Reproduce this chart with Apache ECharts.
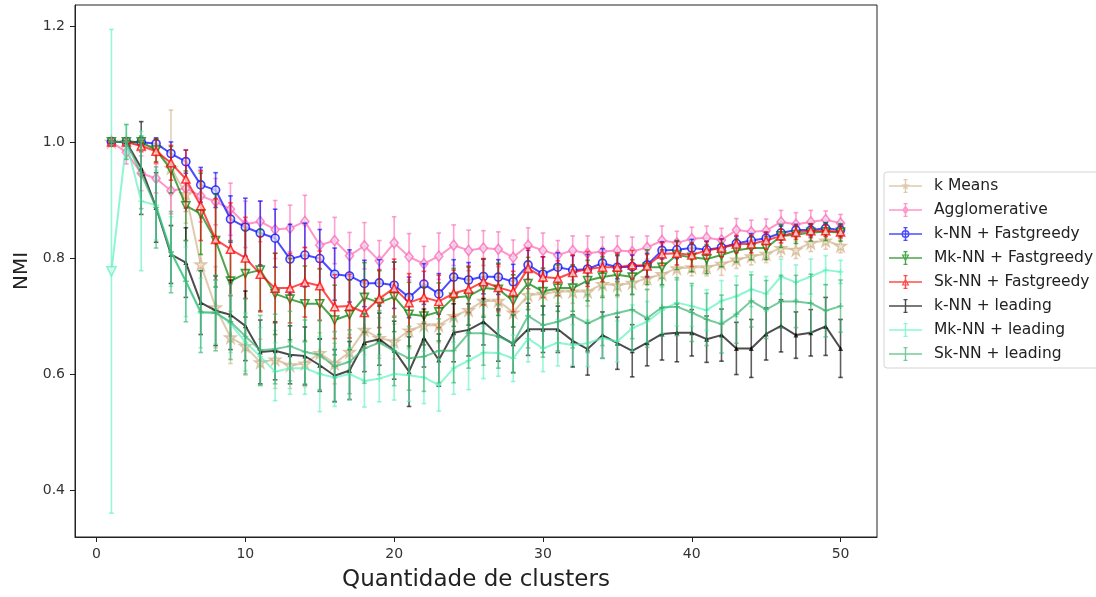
<!DOCTYPE html>
<html>
<head>
<meta charset="utf-8">
<script src="https://cdn.jsdelivr.net/npm/echarts@6/dist/echarts.min.js"></script>
<style>
  html, body { margin: 0; padding: 0; background: #fff; }
  #chart { width: 1096px; height: 597px; }
</style>
</head>
<body>
<div id="chart"></div>
<script>
// Number of clusters on the x axis
const clusters = [1, 2, 3, 4, 5, 6, 7, 8, 9, 10, 11, 12, 13, 14, 15, 16, 17, 18, 19, 20,
  21, 22, 23, 24, 25, 26, 27, 28, 29, 30, 31, 32, 33, 34, 35, 36, 37, 38, 39, 40,
  41, 42, 43, 44, 45, 46, 47, 48, 49, 50];

const xTicks = [0, 10, 20, 30, 40, 50];
const yTicks = [0.4, 0.6, 0.8, 1.0, 1.2];

const seriesNames = ['k Means', 'Agglomerative', 'k-NN + Fastgreedy', 'Mk-NN + Fastgreedy',
  'Sk-NN + Fastgreedy', 'k-NN + leading', 'Mk-NN + leading', 'Sk-NN + leading'];

// Mean NMI per method and its standard deviation (error bar half-length)
const kMeans = [1.0, 1.0, 0.995, 0.99, 0.955, 0.91, 0.789, 0.715, 0.663, 0.648,
  0.620, 0.625, 0.615, 0.618, 0.636, 0.618, 0.638, 0.676, 0.662, 0.656,
  0.675, 0.684, 0.684, 0.700, 0.710, 0.726, 0.726, 0.706, 0.736, 0.738,
  0.742, 0.742, 0.742, 0.755, 0.753, 0.757, 0.765, 0.772, 0.782, 0.784,
  0.784, 0.790, 0.797, 0.803, 0.807, 0.817, 0.814, 0.826, 0.830, 0.821];
const kMeansErr = [0, 0.005, 0.01, 0.015, 0.1, 0.05, 0.08, 0.07, 0.045, 0.05,
  0.04, 0.05, 0.04, 0.04, 0.035, 0.035, 0.03, 0.03, 0.035, 0.03,
  0.03, 0.025, 0.03, 0.025, 0.025, 0.025, 0.02, 0.025, 0.02, 0.02,
  0.02, 0.02, 0.025, 0.02, 0.02, 0.02, 0.02, 0.02, 0.02, 0.015,
  0.015, 0.02, 0.015, 0.015, 0.015, 0.015, 0.015, 0.015, 0.015, 0.012];

const agglomerative = [1.0, 0.982, 0.946, 0.937, 0.916, 0.920, 0.907, 0.897, 0.884, 0.858,
  0.863, 0.849, 0.851, 0.863, 0.822, 0.830, 0.804, 0.821, 0.795, 0.826,
  0.802, 0.790, 0.803, 0.822, 0.813, 0.817, 0.815, 0.801, 0.822, 0.813,
  0.805, 0.813, 0.808, 0.811, 0.813, 0.811, 0.818, 0.830, 0.826, 0.833,
  0.835, 0.831, 0.848, 0.845, 0.847, 0.862, 0.858, 0.862, 0.866, 0.860];
const agglomerativeErr = [0, 0.02, 0.03, 0.025, 0.04, 0.04, 0.045, 0.04, 0.045, 0.04,
  0.035, 0.05, 0.04, 0.045, 0.04, 0.04, 0.04, 0.04, 0.035, 0.045,
  0.04, 0.03, 0.04, 0.035, 0.035, 0.03, 0.03, 0.03, 0.03, 0.03,
  0.025, 0.025, 0.03, 0.025, 0.025, 0.025, 0.02, 0.025, 0.02, 0.02,
  0.02, 0.02, 0.02, 0.02, 0.02, 0.02, 0.02, 0.02, 0.015, 0.015];

const knnFast = [1.0, 1.0, 1.0, 0.997, 0.980, 0.966, 0.926, 0.917, 0.867, 0.853,
  0.843, 0.834, 0.798, 0.805, 0.799, 0.772, 0.769, 0.756, 0.757, 0.753,
  0.732, 0.755, 0.738, 0.767, 0.762, 0.768, 0.767, 0.759, 0.788, 0.772,
  0.784, 0.779, 0.781, 0.791, 0.784, 0.785, 0.788, 0.813, 0.814, 0.817,
  0.814, 0.818, 0.825, 0.830, 0.834, 0.843, 0.848, 0.848, 0.851, 0.848];
const knnFastErr = [0, 0, 0.005, 0.01, 0.02, 0.02, 0.03, 0.03, 0.04, 0.05,
  0.055, 0.05, 0.06, 0.055, 0.05, 0.045, 0.045, 0.04, 0.04, 0.04,
  0.035, 0.035, 0.035, 0.03, 0.03, 0.03, 0.03, 0.03, 0.025, 0.03,
  0.025, 0.025, 0.025, 0.025, 0.02, 0.02, 0.02, 0.015, 0.015, 0.015,
  0.015, 0.015, 0.012, 0.012, 0.01, 0.012, 0.01, 0.01, 0.01, 0.01];

const mknnFast = [1.0, 1.0, 1.0, 0.986, 0.952, 0.890, 0.876, 0.830, 0.760, 0.773,
  0.779, 0.738, 0.729, 0.721, 0.721, 0.693, 0.702, 0.732, 0.723, 0.733,
  0.703, 0.700, 0.707, 0.732, 0.734, 0.748, 0.746, 0.726, 0.756, 0.742,
  0.748, 0.748, 0.761, 0.767, 0.771, 0.767, 0.784, 0.784, 0.805, 0.801,
  0.798, 0.805, 0.813, 0.817, 0.817, 0.838, 0.840, 0.844, 0.845, 0.844];
const mknnFastErr = [0, 0, 0.01, 0.02, 0.04, 0.06, 0.07, 0.08, 0.07, 0.075,
  0.07, 0.07, 0.07, 0.065, 0.06, 0.06, 0.06, 0.06, 0.055, 0.06,
  0.055, 0.05, 0.05, 0.05, 0.05, 0.05, 0.045, 0.045, 0.045, 0.04,
  0.04, 0.04, 0.035, 0.035, 0.035, 0.03, 0.03, 0.03, 0.025, 0.025,
  0.025, 0.02, 0.02, 0.02, 0.02, 0.02, 0.015, 0.015, 0.015, 0.015];

const sknnFast = [1.0, 1.0, 0.993, 0.984, 0.964, 0.936, 0.890, 0.832, 0.815, 0.800,
  0.772, 0.748, 0.748, 0.758, 0.752, 0.716, 0.717, 0.706, 0.730, 0.748,
  0.723, 0.732, 0.725, 0.739, 0.746, 0.759, 0.749, 0.742, 0.782, 0.767,
  0.765, 0.775, 0.781, 0.784, 0.784, 0.788, 0.786, 0.807, 0.808, 0.805,
  0.813, 0.817, 0.824, 0.824, 0.830, 0.838, 0.844, 0.847, 0.847, 0.845];
const sknnFastErr = [0, 0, 0.01, 0.02, 0.03, 0.05, 0.06, 0.07, 0.08, 0.07,
  0.065, 0.06, 0.06, 0.06, 0.06, 0.055, 0.055, 0.055, 0.05, 0.05,
  0.05, 0.045, 0.045, 0.04, 0.04, 0.04, 0.04, 0.035, 0.035, 0.035,
  0.03, 0.03, 0.03, 0.025, 0.025, 0.025, 0.02, 0.02, 0.02, 0.02,
  0.015, 0.015, 0.015, 0.015, 0.015, 0.012, 0.012, 0.012, 0.01, 0.01];

const knnLead = [1.0, 1.0, 0.955, 0.887, 0.806, 0.792, 0.723, 0.709, 0.702, 0.683,
  0.638, 0.640, 0.633, 0.631, 0.615, 0.597, 0.606, 0.654, 0.660, 0.641,
  0.604, 0.662, 0.624, 0.671, 0.676, 0.690, 0.667, 0.652, 0.677, 0.677,
  0.677, 0.657, 0.643, 0.667, 0.653, 0.640, 0.654, 0.669, 0.671, 0.671,
  0.660, 0.667, 0.644, 0.644, 0.669, 0.683, 0.667, 0.671, 0.682, 0.644];
const knnLeadErr = [0, 0, 0.08, 0.06, 0.05, 0.06, 0.055, 0.06, 0.06, 0.06,
  0.055, 0.05, 0.05, 0.05, 0.045, 0.045, 0.05, 0.05, 0.045, 0.05,
  0.06, 0.05, 0.045, 0.05, 0.045, 0.04, 0.045, 0.05, 0.045, 0.04,
  0.04, 0.045, 0.045, 0.04, 0.045, 0.045, 0.04, 0.045, 0.05, 0.04,
  0.04, 0.045, 0.045, 0.05, 0.045, 0.045, 0.04, 0.04, 0.05, 0.05];

const mknnLead = [0.777, 1.0, 0.898, 0.891, 0.811, 0.759, 0.705, 0.707, 0.687, 0.655,
  0.630, 0.604, 0.610, 0.610, 0.600, 0.594, 0.600, 0.588, 0.592, 0.600,
  0.598, 0.594, 0.581, 0.610, 0.623, 0.637, 0.636, 0.627, 0.661, 0.644,
  0.654, 0.650, 0.653, 0.662, 0.656, 0.679, 0.690, 0.710, 0.723, 0.717,
  0.710, 0.726, 0.734, 0.746, 0.738, 0.768, 0.758, 0.768, 0.779, 0.776];
const mknnLeadErr = [0.417, 0.03, 0.12, 0.06, 0.06, 0.06, 0.06, 0.055, 0.05, 0.05,
  0.05, 0.05, 0.045, 0.045, 0.065, 0.05, 0.045, 0.045, 0.04, 0.045,
  0.045, 0.045, 0.045, 0.045, 0.05, 0.045, 0.04, 0.04, 0.04, 0.04,
  0.04, 0.035, 0.04, 0.035, 0.035, 0.04, 0.035, 0.04, 0.04, 0.035,
  0.035, 0.035, 0.035, 0.03, 0.03, 0.03, 0.03, 0.03, 0.025, 0.02];

const sknnLead = [1.0, 1.0, 0.945, 0.887, 0.810, 0.760, 0.707, 0.705, 0.690, 0.665,
  0.641, 0.643, 0.648, 0.638, 0.633, 0.613, 0.621, 0.644, 0.654, 0.640,
  0.627, 0.630, 0.640, 0.640, 0.670, 0.670, 0.665, 0.653, 0.700, 0.684,
  0.690, 0.700, 0.687, 0.699, 0.705, 0.711, 0.696, 0.715, 0.716, 0.706,
  0.694, 0.686, 0.703, 0.726, 0.711, 0.725, 0.725, 0.722, 0.709, 0.717];
const sknnLeadErr = [0, 0.03, 0.06, 0.07, 0.07, 0.07, 0.07, 0.065, 0.065, 0.065,
  0.06, 0.06, 0.06, 0.055, 0.06, 0.06, 0.055, 0.06, 0.055, 0.06,
  0.055, 0.06, 0.055, 0.055, 0.06, 0.055, 0.055, 0.05, 0.055, 0.055,
  0.05, 0.055, 0.05, 0.05, 0.055, 0.05, 0.05, 0.05, 0.05, 0.05,
  0.045, 0.05, 0.05, 0.045, 0.05, 0.045, 0.045, 0.05, 0.045, 0.045];

const FONT = "'DejaVu Sans', 'Noto Sans', sans-serif";

// Marker shapes
const STAR = 'path://M50,0 L61,35 L98,35 L68,57 L79,91 L50,70 L21,91 L32,57 L2,35 L39,35 Z';
const PLUS = 'path://M4,0 H6 V4 H10 V6 H6 V10 H4 V6 H0 V4 H4 Z';

// Legend glyph: horizontal line, vertical error bar with caps, and a small marker
const LEG_BASE = 'M0 6.2H33V7.8H0Z M15.8 0H17.2V14H15.8Z M14.5 0H18.5V1.2H14.5Z M14.5 12.8H18.5V14H14.5Z ';
const LEG_MARK = {
  star: 'M16.5 2.5L17.6 5.6L20.8 5.6L18.2 7.5L19.2 10.6L16.5 8.7L13.8 10.6L14.8 7.5L12.2 5.6L15.4 5.6Z',
  diamond: 'M16.5 2.2L19.8 7L16.5 11.8L13.2 7Z M16.5 4.4L14.7 7L16.5 9.6L18.3 7Z',
  circle: 'M12.5 7A4 4 0 1 1 20.5 7A4 4 0 1 1 12.5 7Z M14 7A2.5 2.5 0 1 0 19 7A2.5 2.5 0 1 0 14 7Z',
  tdown: 'M12.6 3.4H20.4L16.5 10.8Z M14.6 4.6L16.5 8.3L18.4 4.6Z',
  tup: 'M16.5 3.2L20.4 10.6H12.6Z M16.5 5.7L14.6 9.4H18.4Z',
  plus: ''
};

const defs = [
  { name: seriesNames[0], vals: kMeans, errs: kMeansErr, color: '#D2B48C', fill: '#f3e9dc', symbol: STAR, size: 11, mark: 'star' },
  { name: seriesNames[1], vals: agglomerative, errs: agglomerativeErr, color: '#FF69B4', fill: '#ecdcf2', symbol: 'diamond', size: [8, 10], mark: 'diamond' },
  { name: seriesNames[2], vals: knnFast, errs: knnFastErr, color: '#0000FF', fill: '#dcdcf4', symbol: 'circle', size: 8, mark: 'circle' },
  { name: seriesNames[3], vals: mknnFast, errs: mknnFastErr, color: '#008000', fill: '#eaf4ea', symbol: 'triangle', rotate: 180, size: 8, mark: 'tdown' },
  { name: seriesNames[4], vals: sknnFast, errs: sknnFastErr, color: '#FF0000', fill: '#fde8e8', symbol: 'triangle', size: 8, mark: 'tup' },
  { name: seriesNames[5], vals: knnLead, errs: knnLeadErr, color: '#000000', fill: '#000000', symbol: 'triangle', size: 5, mark: 'plus' },
  { name: seriesNames[6], vals: mknnLead, errs: mknnLeadErr, color: '#5EF2BE', fill: '#5EF2BE', symbol: PLUS, size: 6, mark: 'plus' },
  { name: seriesNames[7], vals: sknnLead, errs: sknnLeadErr, color: '#3CB371', fill: '#3CB371', symbol: PLUS, size: 6, mark: 'plus' }
];

const ALPHA = 0.7;

function errorBars(d, z) {
  return {
    type: 'custom',
    name: d.name,
    z: z,
    silent: true,
    data: clusters.map((c, i) => [c, d.vals[i] - d.errs[i], d.vals[i] + d.errs[i]]),
    encode: { x: 0, y: [1, 2] },
    renderItem: function (params, api) {
      const x = api.value(0);
      const lo = api.coord([x, api.value(1)]);
      const hi = api.coord([x, api.value(2)]);
      const cap = 2.3;
      const style = { stroke: d.color, lineWidth: 1.6, opacity: ALPHA * 0.9, fill: null };
      return {
        type: 'group',
        children: [
          { type: 'line', shape: { x1: lo[0], y1: lo[1], x2: hi[0], y2: hi[1] }, style: style },
          { type: 'line', shape: { x1: lo[0] - cap, y1: lo[1], x2: lo[0] + cap, y2: lo[1] }, style: style },
          { type: 'line', shape: { x1: hi[0] - cap, y1: hi[1], x2: hi[0] + cap, y2: hi[1] }, style: style }
        ]
      };
    }
  };
}

function meanLine(d, z) {
  const data = clusters.map((c, i) => [c, d.vals[i]]);
  if (d.name === 'Mk-NN + leading') {
    // the first point of this method is drawn with a down-pointing triangle
    data[0] = {
      value: data[0], symbol: 'triangle', symbolRotate: 180, symbolSize: 9,
      itemStyle: { color: '#eafcf2', borderColor: d.color, borderWidth: 1.6 }
    };
  }
  return {
    type: 'line',
    name: d.name,
    z: z,
    data: data,
    symbol: d.symbol,
    symbolSize: d.size,
    symbolRotate: d.rotate || 0,
    showAllSymbol: true,
    silent: true,
    lineStyle: { color: d.color, width: 2, opacity: ALPHA },
    itemStyle: {
      color: d.fill,
      borderColor: d.color,
      borderWidth: (d.mark === 'plus') ? 0 : 1.6,
      opacity: ALPHA + 0.05
    }
  };
}

const series = [];
defs.forEach((d, i) => {
  series.push(errorBars(d, 2 + i * 2));
  series.push(meanLine(d, 3 + i * 2));
});

const legendData = defs.map(d => ({
  name: d.name,
  icon: 'path://' + LEG_BASE + LEG_MARK[d.mark],
  itemStyle: { color: d.color, opacity: ALPHA, borderWidth: 0 }
}));

const chart = echarts.init(document.getElementById('chart'), null, { renderer: 'canvas' });
chart.setOption({
  animation: false,
  backgroundColor: '#ffffff',
  grid: {
    left: 75, right: 219, top: 5, bottom: 60,
    show: true, borderColor: '#222', borderWidth: 1, backgroundColor: 'transparent'
  },
  xAxis: {
    type: 'value',
    min: -1.45, max: 52.45,
    name: 'Quantidade de clusters',
    nameLocation: 'middle',
    nameGap: 32,
    nameTextStyle: { fontFamily: FONT, fontSize: 23, color: '#222' },
    axisLine: { show: true, onZero: false, lineStyle: { color: '#222', width: 1 } },
    axisTick: { show: true, length: 5, lineStyle: { color: '#222', width: 1 }, customValues: xTicks },
    axisLabel: { fontFamily: FONT, fontSize: 14, color: '#333', margin: 10, customValues: xTicks },
    splitLine: { show: false }
  },
  yAxis: {
    type: 'value',
    min: 0.319, max: 1.236,
    name: 'NMI',
    nameLocation: 'middle',
    nameGap: 42,
    nameRotate: 90,
    nameTextStyle: { fontFamily: FONT, fontSize: 20, color: '#222' },
    axisLine: { show: true, onZero: false, lineStyle: { color: '#222', width: 1 } },
    axisTick: { show: true, length: 5, lineStyle: { color: '#222', width: 1 }, customValues: yTicks },
    axisLabel: {
      fontFamily: FONT, fontSize: 14, color: '#333', margin: 10, customValues: yTicks,
      formatter: v => v.toFixed(1)
    },
    splitLine: { show: false }
  },
  legend: {
    orient: 'vertical',
    left: 884, top: 172,
    itemWidth: 33, itemHeight: 14, itemGap: 8,
    padding: [6, 8, 6, 5],
    borderColor: '#d4d4d4', borderWidth: 1, borderRadius: 3,
    backgroundColor: '#ffffff',
    selectedMode: false,
    textStyle: { fontFamily: FONT, fontSize: 15.5, lineHeight: 16, color: '#222', padding: [0, 0, 0, 7] },
    data: legendData
  },
  series: series
});
</script>
</body>
</html>
